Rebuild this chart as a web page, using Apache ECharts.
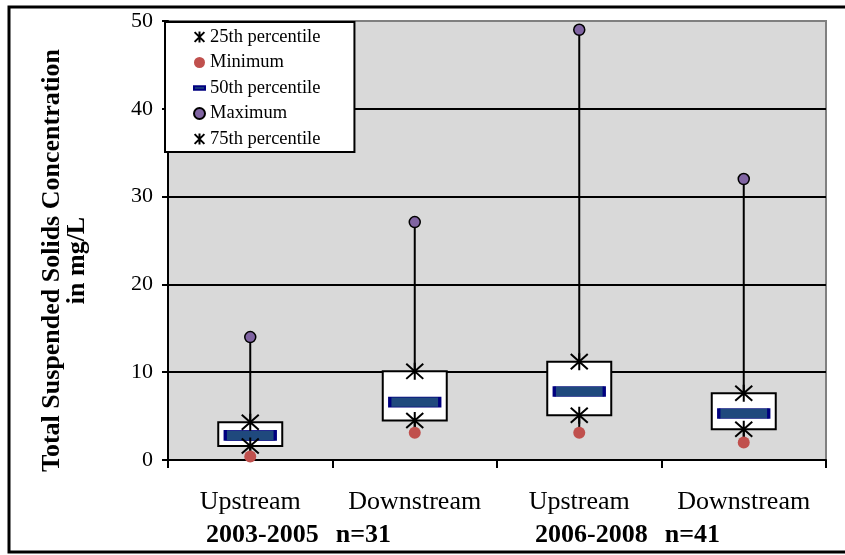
<!DOCTYPE html>
<html>
<head>
<meta charset="utf-8">
<script src="https://cdn.jsdelivr.net/npm/echarts@6/dist/echarts.min.js"></script>
<style>
html,body{margin:0;padding:0;background:#fff;}
#chart{width:845px;height:555px;}
</style>
</head>
<body>
<div id="chart"></div>
<script>
// ---- data ----
const categories = ['Upstream', 'Downstream', 'Upstream', 'Downstream'];
const periodLabels = ['2003-2005', '2006-2008'];
const countLabels = ['n=31', 'n=41'];
const minValues = [0.4, 3.1, 3.1, 2.0];
const p25Values = [1.6, 4.5, 5.1, 3.5];
const p50Values = [2.8, 6.6, 7.8, 5.3];
const p75Values = [4.3, 10.1, 11.2, 7.6];
const maxValues = [14, 27.1, 49, 32];
const yTicks = [0, 10, 20, 30, 40, 50];

const FONT = 'Liberation Serif';
const STAR = 'path://M0,0L16,16M16,0L0,16M8,-1L8,17';
const DASH = 'path://M0,0M12,12M0,4L12,4L12,8L0,8Z';

const pts = arr => arr.map((v, i) => [i, v]);

const chart = echarts.init(document.getElementById('chart'), null, {renderer: 'canvas'});

const option = {
  animation: false,
  backgroundColor: '#ffffff',
  graphic: [{
    type: 'rect', silent: true, z: 100,
    shape: {x: 9, y: 7, width: 860, height: 545},
    style: {fill: 'none', stroke: '#000', lineWidth: 3}
  }],
  grid: {
    left: 168, right: 19, top: 21, bottom: 95,
    show: true, backgroundColor: '#d9d9d9', borderColor: '#808080', borderWidth: 2
  },
  legend: {
    left: 165, top: 22, orient: 'vertical',
    backgroundColor: '#ffffff', borderColor: '#000', borderWidth: 2,
    padding: [5, 34, 3, 28],
    itemWidth: 11, itemHeight: 11, itemGap: 5.5,
    textStyle: {fontFamily: FONT, fontSize: 18.5, color: '#000', lineHeight: 20},
    data: [
      {name: '25th percentile', icon: STAR},
      {name: 'Minimum', icon: 'circle'},
      {name: '50th percentile', icon: DASH},
      {name: 'Maximum', icon: 'circle'},
      {name: '75th percentile', icon: STAR}
    ]
  },
  xAxis: [{
    type: 'category', data: categories, boundaryGap: true,
    axisLine: {lineStyle: {color: '#000', width: 2}},
    axisTick: {show: true, interval: 0, alignWithLabel: false, length: 8, lineStyle: {color: '#000', width: 2}},
    axisLabel: {interval: 0, fontFamily: FONT, fontSize: 26, color: '#000', margin: 29},
    splitLine: {show: false}
  }, {
    type: 'category', data: periodLabels, position: 'bottom', gridIndex: 0,
    axisLine: {show: false}, axisTick: {show: false}, splitLine: {show: false},
    axisLabel: {
      interval: 0, margin: 62, padding: [0, 68, 0, 0],
      formatter: (v, i) => '{p|' + v + '}{g|}{n|' + countLabels[i] + '}',
      rich: {
        p: {fontFamily: FONT, fontSize: 26, fontWeight: 'bold', color: '#000'},
        g: {width: 17},
        n: {fontFamily: FONT, fontSize: 26, fontWeight: 'bold', color: '#000'}
      }
    }
  }],
  yAxis: {
    type: 'value', min: 0, max: 50, interval: 10,
    name: 'Total Suspended Solids Concentration\nin mg/L',
    nameLocation: 'middle', nameGap: 78, nameRotate: 90,
    nameTextStyle: {fontFamily: FONT, fontSize: 26, fontWeight: 'bold', color: '#000', lineHeight: 25, padding: [0, 40, 0, 0]},
    axisLine: {show: true, lineStyle: {color: '#000', width: 2}},
    axisTick: {show: true, length: 6, lineStyle: {color: '#000', width: 2}},
    axisLabel: {fontFamily: FONT, fontSize: 22, color: '#000', margin: 15,
      formatter: v => (yTicks.indexOf(v) >= 0 ? String(v) : '')},
    splitLine: {show: true, lineStyle: {color: ['#000', '#000', '#000', '#000', '#000', '#808080'], width: 2}}
  },
  series: [
    {
      name: 'whisker', type: 'custom', xAxisIndex: 0,
      data: minValues.map((v, i) => [i, v, maxValues[i]]),
      renderItem: (params, api) => {
        const a = api.coord([api.value(0), api.value(1)]);
        const b = api.coord([api.value(0), api.value(2)]);
        return {type: 'line', shape: {x1: a[0], y1: a[1], x2: b[0], y2: b[1]},
          style: {stroke: '#000', lineWidth: 2}};
      }
    },
    {
      name: 'box', type: 'custom', xAxisIndex: 0,
      data: p25Values.map((v, i) => [i, v, p75Values[i]]),
      renderItem: (params, api) => {
        const lo = api.coord([api.value(0), api.value(1)]);
        const hi = api.coord([api.value(0), api.value(2)]);
        const w = 64;
        return {type: 'rect', shape: {x: hi[0] - w / 2, y: hi[1], width: w, height: lo[1] - hi[1]},
          style: {fill: '#fff', stroke: '#000', lineWidth: 2}};
      }
    },
    {
      name: '50th percentile', type: 'scatter', xAxisIndex: 0,
      data: pts(p50Values), symbol: 'rect', symbolSize: [50, 10],
      itemStyle: {color: '#1F497D', borderColor: '#000080', borderWidth: 1.5, opacity: 1}
    },
    {
      name: '25th percentile', type: 'scatter', xAxisIndex: 0,
      data: pts(p25Values), symbol: STAR, symbolSize: 17,
      itemStyle: {color: '#000', borderColor: '#000', borderWidth: 2, opacity: 1}
    },
    {
      name: '75th percentile', type: 'scatter', xAxisIndex: 0,
      data: pts(p75Values), symbol: STAR, symbolSize: 17,
      itemStyle: {color: '#000', borderColor: '#000', borderWidth: 2, opacity: 1}
    },
    {
      name: 'Minimum', type: 'scatter', xAxisIndex: 0,
      data: pts(minValues), symbol: 'circle', symbolSize: 12,
      itemStyle: {color: '#C0504D', opacity: 1}
    },
    {
      name: 'Maximum', type: 'scatter', xAxisIndex: 0,
      data: pts(maxValues), symbol: 'circle', symbolSize: 11,
      itemStyle: {color: '#8064A2', borderColor: '#000', borderWidth: 1.5, opacity: 1}
    }
  ]
};
chart.setOption(option);
</script>
</body>
</html>
